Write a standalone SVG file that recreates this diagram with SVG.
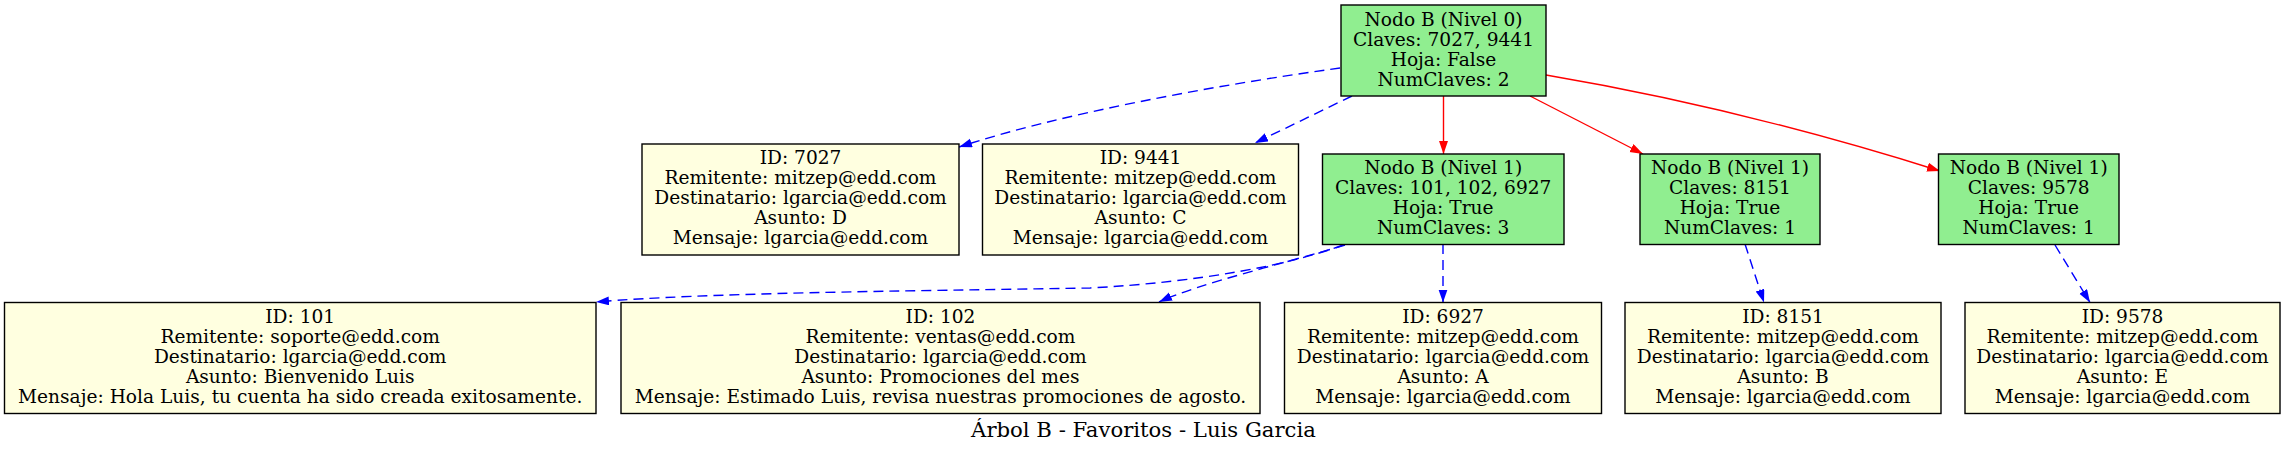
<svg xmlns="http://www.w3.org/2000/svg" width="2287" height="453" viewBox="0 0 2287 453">
<style>
text{font-family:"DejaVu Serif","Liberation Serif",serif;font-size:18.6px;fill:#000;text-anchor:middle}
.t{font-size:21.2px}
.g{fill:#90ee90;stroke:#000;stroke-width:1.4}
.y{fill:#ffffe0;stroke:#000;stroke-width:1.4}
.b{fill:none;stroke:#0000ff;stroke-width:1.4;stroke-dasharray:10,6;marker-end:url(#ab)}
.r{fill:none;stroke:#ff0000;stroke-width:1.4;marker-end:url(#ar)}
</style>
<defs>
<marker id="ab" markerUnits="userSpaceOnUse" markerWidth="14" markerHeight="10" refX="13" refY="4.5" orient="auto"><path d="M0,0 L13,4.5 L0,9 z" fill="#0000ff"/></marker>
<marker id="ar" markerUnits="userSpaceOnUse" markerWidth="14" markerHeight="10" refX="13" refY="4.5" orient="auto"><path d="M0,0 L13,4.5 L0,9 z" fill="#ff0000"/></marker>
</defs>
<rect width="2287" height="453" fill="#fff"/>
<g id="connectors">
<path class="b" d="M1340,68 C1210,86 1060,114 959,147"/>
<path class="b" d="M1352,96 L1255,143"/>
<path class="r" d="M1443.5,96 L1443.5,154"/>
<path class="r" d="M1530,96 L1643,154"/>
<path class="r" d="M1546,75 C1670,96 1810,130 1940,171"/>
<path class="b" d="M1343,245 C1290,265 1200,282 1090,288 C900,291 700,293 596,302"/>
<path class="b" d="M1345,245 C1290,262 1200,283 1159,302"/>
<path class="b" d="M1443,244 L1443,302.5"/>
<path class="b" d="M1745,244 L1764,302.5"/>
<path class="b" d="M2055,245 L2090,302.5"/>
</g>
<g id="root">
<rect class="g" x="1341" y="5" width="205" height="91"/>
<text x="1443.5" y="25.5">Nodo B (Nivel 0)</text>
<text x="1443.5" y="45.5">Claves: 7027, 9441</text>
<text x="1443.5" y="65.5">Hoja: False</text>
<text x="1443.5" y="85.5">NumClaves: 2</text>
</g>
<g id="n7027">
<rect class="y" x="642" y="144" width="317" height="111"/>
<text x="800.5" y="164">ID: 7027</text>
<text x="800.5" y="184">Remitente: mitzep@edd.com</text>
<text x="800.5" y="204">Destinatario: lgarcia@edd.com</text>
<text x="800.5" y="224">Asunto: D</text>
<text x="800.5" y="244">Mensaje: lgarcia@edd.com</text>
</g>
<g id="n9441">
<rect class="y" x="982.5" y="144" width="316" height="111"/>
<text x="1140.5" y="164">ID: 9441</text>
<text x="1140.5" y="184">Remitente: mitzep@edd.com</text>
<text x="1140.5" y="204">Destinatario: lgarcia@edd.com</text>
<text x="1140.5" y="224">Asunto: C</text>
<text x="1140.5" y="244">Mensaje: lgarcia@edd.com</text>
</g>
<g id="nivel1a">
<rect class="g" x="1322.5" y="154" width="241.5" height="90.5"/>
<text x="1443.2" y="174">Nodo B (Nivel 1)</text>
<text x="1443.2" y="194">Claves: 101, 102, 6927</text>
<text x="1443.2" y="214">Hoja: True</text>
<text x="1443.2" y="234">NumClaves: 3</text>
</g>
<g id="nivel1b">
<rect class="g" x="1640" y="154" width="180" height="90.5"/>
<text x="1730" y="174">Nodo B (Nivel 1)</text>
<text x="1730" y="194">Claves: 8151</text>
<text x="1730" y="214">Hoja: True</text>
<text x="1730" y="234">NumClaves: 1</text>
</g>
<g id="nivel1c">
<rect class="g" x="1938.5" y="154" width="180.5" height="90.5"/>
<text x="2028.7" y="174">Nodo B (Nivel 1)</text>
<text x="2028.7" y="194">Claves: 9578</text>
<text x="2028.7" y="214">Hoja: True</text>
<text x="2028.7" y="234">NumClaves: 1</text>
</g>
<g id="n101">
<rect class="y" x="4.5" y="302.5" width="591.5" height="111"/>
<text x="300.2" y="322.5">ID: 101</text>
<text x="300.2" y="342.5">Remitente: soporte@edd.com</text>
<text x="300.2" y="362.5">Destinatario: lgarcia@edd.com</text>
<text x="300.2" y="382.5">Asunto: Bienvenido Luis</text>
<text x="300.2" y="402.5">Mensaje: Hola Luis, tu cuenta ha sido creada exitosamente.</text>
</g>
<g id="n102">
<rect class="y" x="621" y="302.5" width="639" height="111"/>
<text x="940.5" y="322.5">ID: 102</text>
<text x="940.5" y="342.5">Remitente: ventas@edd.com</text>
<text x="940.5" y="362.5">Destinatario: lgarcia@edd.com</text>
<text x="940.5" y="382.5">Asunto: Promociones del mes</text>
<text x="940.5" y="402.5">Mensaje: Estimado Luis, revisa nuestras promociones de agosto.</text>
</g>
<g id="n6927">
<rect class="y" x="1284.5" y="302.5" width="317" height="111"/>
<text x="1443" y="322.5">ID: 6927</text>
<text x="1443" y="342.5">Remitente: mitzep@edd.com</text>
<text x="1443" y="362.5">Destinatario: lgarcia@edd.com</text>
<text x="1443" y="382.5">Asunto: A</text>
<text x="1443" y="402.5">Mensaje: lgarcia@edd.com</text>
</g>
<g id="n8151">
<rect class="y" x="1625" y="302.5" width="316" height="111"/>
<text x="1783" y="322.5">ID: 8151</text>
<text x="1783" y="342.5">Remitente: mitzep@edd.com</text>
<text x="1783" y="362.5">Destinatario: lgarcia@edd.com</text>
<text x="1783" y="382.5">Asunto: B</text>
<text x="1783" y="402.5">Mensaje: lgarcia@edd.com</text>
</g>
<g id="n9578">
<rect class="y" x="1965" y="302.5" width="315" height="111"/>
<text x="2122.5" y="322.5">ID: 9578</text>
<text x="2122.5" y="342.5">Remitente: mitzep@edd.com</text>
<text x="2122.5" y="362.5">Destinatario: lgarcia@edd.com</text>
<text x="2122.5" y="382.5">Asunto: E</text>
<text x="2122.5" y="402.5">Mensaje: lgarcia@edd.com</text>
</g>
<g id="title">
<text class="t" x="1143.5" y="437">Árbol B - Favoritos - Luis Garcia</text>
</g>
</svg>
